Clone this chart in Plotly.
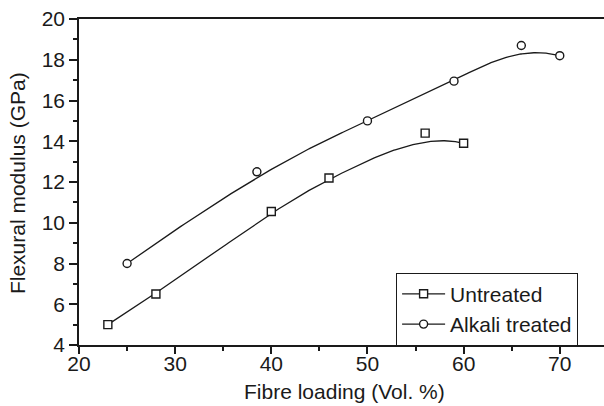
import numpy as np
import plotly.graph_objects as go

# Data
untreated_x = [23, 28, 40, 46, 56, 60]
untreated_y = [5.0, 6.5, 10.55, 12.2, 14.4, 13.9]
alkali_x = [25, 38.5, 50, 59, 66, 70]
alkali_y = [8.0, 12.5, 15.0, 16.95, 18.7, 18.2]

x_ticks = [20, 30, 40, 50, 60, 70]
y_ticks = [4, 6, 8, 10, 12, 14, 16, 18, 20]


def bspline(xs, ys, k=3, m=300):
    """Clamped cubic B-spline using the data points as control points (Origin-style B-spline connection)."""
    P = np.column_stack([xs, ys]).astype(float)
    n = len(P)
    knots = np.array([0] * (k + 1) + list(range(1, n - k)) + [n - k] * (k + 1), dtype=float)
    ts = np.linspace(0, n - k, m)
    out = []
    for t in ts:
        if t >= knots[n]:
            s = n - 1
        else:
            s = np.searchsorted(knots, t, side='right') - 1
        d = [P[j + s - k].copy() for j in range(k + 1)]
        for r in range(1, k + 1):
            for j in range(k, r - 1, -1):
                i = j + s - k
                denom = knots[i + k + 1 - r] - knots[i]
                a = 0.0 if denom == 0 else (t - knots[i]) / denom
                d[j] = (1 - a) * d[j - 1] + a * d[j]
        out.append(d[k])
    out = np.array(out)
    return out[:, 0], out[:, 1]


FONT = "Liberation Sans, Arial, sans-serif"
INK = "#1a1a1a"

fig = go.Figure()

series = [
    ("Untreated", untreated_x, untreated_y, "square"),
    ("Alkali treated", alkali_x, alkali_y, "circle"),
]

for name, xs, ys, sym in series:
    cx, cy = bspline(xs, ys)
    fig.add_trace(go.Scatter(x=cx, y=cy, mode="lines", line=dict(color=INK, width=1.3),
                             showlegend=False, hoverinfo="skip"))
    fig.add_trace(go.Scatter(x=xs, y=ys, mode="markers", name=name, showlegend=False,
                             marker=dict(symbol=sym, size=8, color="white",
                                         line=dict(color=INK, width=1.4))))

for name, xs, ys, sym in series:
    fig.add_trace(go.Scatter(x=[None], y=[None], mode="lines+markers", name=name,
                             line=dict(color=INK, width=1.3),
                             marker=dict(symbol=sym, size=8, color="white",
                                         line=dict(color=INK, width=1.4))))

fig.update_layout(
    width=604, height=406,
    margin=dict(l=79, r=0, t=19, b=61),
    paper_bgcolor="white", plot_bgcolor="white",
    font=dict(family=FONT, color=INK, size=21),
    showlegend=True,
    legend=dict(x=0.604, y=0.11, xanchor="left", yanchor="middle",
                bordercolor=INK, borderwidth=1, bgcolor="white",
                font=dict(size=21, family=FONT, color=INK),
                itemwidth=43, tracegroupgap=0),
    annotations=[
        dict(text="Fibre loading (Vol. %)", xref="paper", yref="paper", x=0.506, y=-0.144,
             xanchor="center", yanchor="middle", showarrow=False, font=dict(size=21)),
        dict(text="Flexural modulus (GPa)", xref="paper", yref="paper", x=-0.116, y=0.497,
             xanchor="center", yanchor="middle", showarrow=False, textangle=-90, font=dict(size=21)),
    ],
)

fig.update_xaxes(
    range=[20, 74.6], tickvals=x_ticks, ticks="outside", ticklen=7, tickwidth=1.5,
    tickcolor=INK, showline=True, linecolor=INK, linewidth=1.5, mirror=True,
    showgrid=False, zeroline=False, tickfont=dict(size=21), automargin=False,
    ticklabelstandoff=-8,
    minor=dict(ticks="outside", ticklen=4, tickwidth=1.5, tickcolor=INK, dtick=5, tick0=5, showgrid=False),
)
fig.update_yaxes(
    range=[4, 20], tickvals=y_ticks, ticks="outside", ticklen=8, tickwidth=1.5,
    tickcolor=INK, showline=True, linecolor=INK, linewidth=1.5,
    showgrid=False, zeroline=False, tickfont=dict(size=21), automargin=False,
    minor=dict(ticks="outside", ticklen=4, tickwidth=1.5, tickcolor=INK, dtick=2, tick0=5, showgrid=False),
)

fig.write_html("out.html", config={"displayModeBar": False},
               post_script="document.body.style.margin='0';document.body.style.overflow='hidden';")
